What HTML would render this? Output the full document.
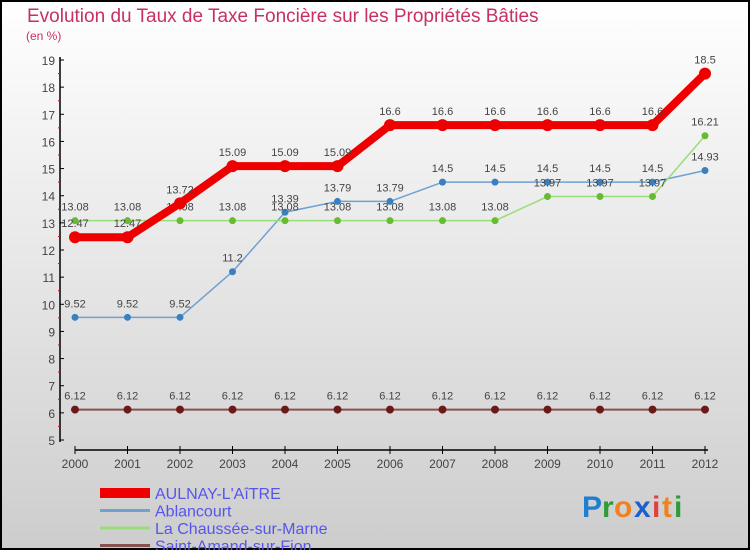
<!DOCTYPE html>
<html><head><meta charset="utf-8"><style>
body{margin:0}
#c{width:750px;height:550px;position:relative;overflow:hidden;font-family:"Liberation Sans",sans-serif}
</style></head><body>
<div id="c">
<svg id="s" width="750" height="550" xmlns="http://www.w3.org/2000/svg">
<defs><linearGradient id="bg" x1="0" y1="0" x2="0" y2="1"><stop offset="0" stop-color="#ffffff"/><stop offset="1" stop-color="#cdcdcd"/></linearGradient></defs>
<rect x="1" y="1" width="748" height="548" fill="url(#bg)" stroke="#000" stroke-width="2"/>
<text x="27" y="22" font-size="19" fill="#c8305f">Evolution du Taux de Taxe Foncière sur les Propriétés Bâties</text>
<text x="26" y="40" font-size="12" fill="#c8305f">(en %)</text>
<g id="axes"></g>
<g id="series"></g>
<g id="legend"></g>
<g font-size="30" font-weight="bold">
<text x="582" y="517" fill="#1e7fd0">P</text><text x="602" y="517" fill="#2e9a3a">r</text><text x="614" y="517" fill="#f08020">o</text><text x="634" y="517" fill="#1e5fd0">x</text><text x="652" y="517" fill="#e04040">i</text><text x="662" y="517" fill="#f08020">t</text><text x="674" y="517" fill="#2e9a3a">i</text>
</g>
</svg>
</div>
<script>
const years=[2000,2001,2002,2003,2004,2005,2006,2007,2008,2009,2010,2011,2012];
const yTicks=[5,6,7,8,9,10,11,12,13,14,15,16,17,18,19];
const aulnay=[12.47,12.47,13.72,15.09,15.09,15.09,16.6,16.6,16.6,16.6,16.6,16.6,18.5];
const ablancourt=[9.52,9.52,9.52,11.2,13.39,13.79,13.79,14.5,14.5,14.5,14.5,14.5,14.93];
const chaussee=[13.08,13.08,13.08,13.08,13.08,13.08,13.08,13.08,13.08,13.97,13.97,13.97,16.21];
const saintAmand=[6.12,6.12,6.12,6.12,6.12,6.12,6.12,6.12,6.12,6.12,6.12,6.12,6.12];
const NS="http://www.w3.org/2000/svg";
const x=i=>75+i*52.5;
const y=v=>440-(v-5)*(380/14);
function el(tag,attrs,parent){const e=document.createElementNS(NS,tag);for(const k in attrs)e.setAttribute(k,attrs[k]);parent.appendChild(e);return e;}
const axes=document.getElementById('axes');
let a=el('line',{x1:60,y1:57,x2:60,y2:442,stroke:'#000','stroke-width':1.5},axes);


a=el('line',{x1:75,y1:450,x2:708,y2:450,stroke:'#000','stroke-width':1.5},axes);


yTicks.forEach(v=>{
 el('line',{x1:60,y1:y(v),x2:64,y2:y(v),stroke:'#000'},axes);
 if(v<19) el('line',{x1:58,y1:y(v+0.5),x2:60,y2:y(v+0.5),stroke:'#e00'},axes);
 const t=el('text',{x:55,y:y(v)+5,'font-size':12,fill:'#444','text-anchor':'end'},axes);
 t.textContent=v;
 
 
});
years.forEach((yr,i)=>{
 el('line',{x1:x(i),y1:446,x2:x(i),y2:454,stroke:'#000'},axes);
 const t=el('text',{x:x(i),y:468,'font-size':12,fill:'#444','text-anchor':'middle'},axes);
 t.textContent=yr;
 
 
});
const series=[
 {name:'Ablancourt',d:ablancourt,c:'#6fa0d0',w:1.5,dot:'#3a80c0',r:3.5,key:'ablancourt'},
 {name:'La Chaussée-sur-Marne',d:chaussee,c:'#99dd77',w:1.5,dot:'#66bb33',r:3.5,key:'chaussee'},
 {name:'Saint-Amand-sur-Fion',d:saintAmand,c:'#8a5050',w:2,dot:'#6b1a1a',r:4,key:'saint-amand'},
 {name:"AULNAY-L'AîTRE",d:aulnay,c:'#ee0000',w:8,dot:'#ee0000',r:6,key:'aulnay'}
];
const sg=document.getElementById('series');
series.forEach(s=>{
 const g=el('g',{},sg);
 
 
 const p=el('polyline',{points:s.d.map((v,i)=>x(i)+','+y(v)).join(' '),fill:'none',stroke:s.c,'stroke-width':s.w,'stroke-linejoin':'round'},g);
 
 
 s.d.forEach((v,i)=>{
  const c=el('circle',{cx:x(i),cy:y(v),r:s.r,fill:s.dot},g);
  
  
  const t=el('text',{x:x(i),y:y(v)-10,'font-size':11,fill:'#444','text-anchor':'middle'},g);
  t.textContent=v;
  
  
 });
});
const lg=document.getElementById('legend');
const order=[series[3],series[0],series[1],series[2]];
order.forEach((s,i)=>{
 const yy=493+i*17.5;
 const g=el('g',{},lg);
 
 
 el('rect',{x:100,y:yy-(i==0?5:1.5),width:50,height:i==0?10:3,fill:s.c},g);
 const t=el('text',{x:155,y:yy+6,'font-size':16,fill:'#5555ee'},g);
 t.textContent=s.name;
});
</script>
</body></html>
